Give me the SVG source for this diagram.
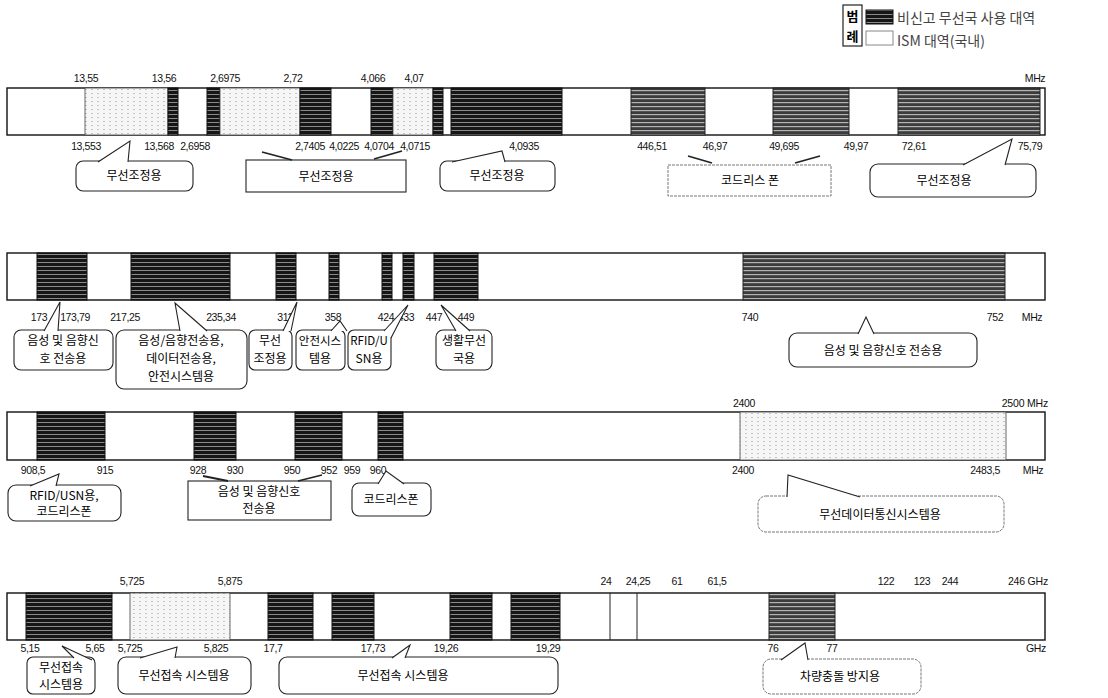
<svg xmlns="http://www.w3.org/2000/svg" width="1108" height="698" viewBox="0 0 1108 698">
<defs>
<pattern id="hatch" width="8" height="4" patternUnits="userSpaceOnUse"><rect width="8" height="4" fill="#161616"/><rect y="2" width="8" height="1" fill="#8a8a8a"/></pattern>
<pattern id="hatch2" width="8" height="4" patternUnits="userSpaceOnUse"><rect width="8" height="4" fill="#3c3c3c"/><rect y="2" width="8" height="1.2" fill="#b4b4b4"/></pattern>
<pattern id="dots" width="6" height="4" patternUnits="userSpaceOnUse"><rect width="6" height="4" fill="#f6f6f6"/><rect x="1" y="1" width="2" height="1" fill="#c4c4c4"/></pattern>
<style>
.bar{fill:#fff;stroke:#111;stroke-width:1.4}
.dk{fill:url(#hatch);stroke:#111;stroke-width:1}
.md{fill:url(#hatch2);stroke:#222;stroke-width:1}
.lt{fill:url(#dots);stroke:#444;stroke-width:0.8}
.vl{stroke:#222;stroke-width:1}
.n{font-family:"Liberation Sans",Arial,sans-serif;font-size:10.5px;letter-spacing:-0.4px;fill:#111;text-anchor:middle}
.ne{font-family:"Liberation Sans",Arial,sans-serif;font-size:10.5px;letter-spacing:-0.2px;fill:#111;text-anchor:end}
.k{font-family:"Noto Sans CJK KR","Noto Sans CJK SC",sans-serif;font-size:12px;fill:#000;text-anchor:middle}
.lg{font-family:"Noto Sans CJK KR","Liberation Sans",sans-serif;font-size:14px;fill:#444}
.cb{fill:#fff;stroke:#222;stroke-width:1.1}
.cg{fill:#fff;stroke:#777;stroke-width:1;stroke-dasharray:3 1}
.tail{fill:#fff;stroke:#222;stroke-width:1.1}
.arw{fill:none;stroke:#222;stroke-width:1.8}
</style>
</defs>
<rect width="1108" height="698" fill="#fff"/>

<g id="legend">
<rect x="843" y="5" width="19" height="41" fill="#fff" stroke="#222" stroke-width="1.2"/>
<text x="852.5" y="21" class="k" style="font-weight:bold;font-size:13px">범</text>
<text x="852.5" y="41" class="k" style="font-weight:bold;font-size:13px">례</text>
<rect x="866" y="10" width="27" height="14" class="dk"/>
<rect x="866" y="31" width="27" height="14" fill="#fff" stroke="#888"/>
<text x="897" y="23" class="lg">비신고 무선국 사용 대역</text>
<text x="897" y="46" class="lg">ISM 대역(국내)</text>
</g>

<g id="row1">
<rect x="7" y="88" width="1038" height="47" class="bar"/>
<rect x="85" y="88" width="83" height="47" class="lt"/>
<rect x="168" y="88" width="10" height="47" class="dk"/>
<rect x="207" y="88" width="13" height="47" class="dk"/>
<rect x="220" y="88" width="80" height="47" class="lt"/>
<rect x="300" y="88" width="31" height="47" class="dk"/>
<rect x="371" y="88" width="22" height="47" class="dk"/>
<rect x="393" y="88" width="40" height="47" class="lt"/>
<rect x="433" y="88" width="10" height="47" class="dk"/>
<rect x="451" y="88" width="111" height="47" class="dk"/>
<rect x="631" y="88" width="74" height="47" class="md"/>
<rect x="773" y="88" width="76" height="47" class="md"/>
<rect x="898" y="88" width="142" height="47" class="md"/>
<text class="n" x="86" y="82">13,55</text>
<text class="n" x="164" y="82">13,56</text>
<text class="n" x="225" y="82">2,6975</text>
<text class="n" x="293" y="82">2,72</text>
<text class="n" x="373" y="82">4,066</text>
<text class="n" x="414" y="82">4,07</text>
<text class="n" x="1035" y="82">MHz</text>
<text class="n" x="86" y="150">13,553</text>
<text class="n" x="159" y="150">13,568</text>
<text class="n" x="195" y="150">2,6958</text>
<text class="n" x="310" y="150">2,7405</text>
<text class="n" x="344" y="150">4,0225</text>
<text class="n" x="379" y="150">4,0704</text>
<text class="n" x="415" y="150">4,0715</text>
<text class="n" x="524" y="150">4,0935</text>
<text class="n" x="652" y="150">446,51</text>
<text class="n" x="715" y="150">46,97</text>
<text class="n" x="784" y="150">49,695</text>
<text class="n" x="856" y="150">49,97</text>
<text class="n" x="914" y="150">72,61</text>
<text class="n" x="1030" y="150">75,79</text>
</g>

<g id="row2">
<rect x="7" y="253" width="1038" height="47" class="bar"/>
<rect x="37" y="253" width="50" height="47" class="dk"/>
<rect x="131" y="253" width="99" height="47" class="dk"/>
<rect x="276" y="253" width="20" height="47" class="dk"/>
<rect x="329" y="253" width="10" height="47" class="dk"/>
<rect x="382" y="253" width="10" height="47" class="dk"/>
<rect x="403" y="253" width="11" height="47" class="dk"/>
<rect x="434" y="253" width="44" height="47" class="dk"/>
<rect x="743" y="253" width="262" height="47" class="md"/>
<text class="n" x="39" y="321">173</text>
<text class="n" x="75" y="321">173,79</text>
<text class="n" x="125" y="321">217,25</text>
<text class="n" x="221" y="321">235,34</text>
<text class="n" x="285" y="321">311</text>
<text class="n" x="333" y="321">358</text>
<text class="n" x="386" y="321">424</text>
<text class="n" x="406" y="321">433</text>
<text class="n" x="434" y="321">447</text>
<text class="n" x="466" y="321">449</text>
<text class="n" x="750" y="321">740</text>
<text class="n" x="995" y="321">752</text>
<text class="n" x="1032" y="321">MHz</text>
</g>

<g id="row3">
<rect x="7" y="412" width="1038" height="48" class="bar"/>
<rect x="37" y="412" width="68" height="48" class="dk"/>
<rect x="194" y="412" width="42" height="48" class="dk"/>
<rect x="295" y="412" width="47" height="48" class="dk"/>
<rect x="378" y="412" width="25" height="48" class="dk"/>
<rect x="740" y="412" width="266" height="48" class="lt"/>
<text class="n" x="744" y="407">2400</text>
<text class="ne" x="1048" y="407">2500 MHz</text>
<text class="n" x="33" y="474">908,5</text>
<text class="n" x="105" y="474">915</text>
<text class="n" x="198" y="474">928</text>
<text class="n" x="235" y="474">930</text>
<text class="n" x="292" y="474">950</text>
<text class="n" x="329" y="474">952</text>
<text class="n" x="352" y="474">959</text>
<text class="n" x="378" y="474">960</text>
<text class="n" x="743" y="474">2400</text>
<text class="n" x="985" y="474">2483,5</text>
<text class="n" x="1033" y="474">MHz</text>
</g>

<g id="row4">
<rect x="7" y="593" width="1038" height="47" class="bar"/>
<rect x="26" y="593" width="86" height="47" class="dk"/>
<rect x="130" y="593" width="100" height="47" class="lt"/>
<rect x="268" y="593" width="45" height="47" class="dk"/>
<rect x="332" y="593" width="42" height="47" class="dk"/>
<rect x="450" y="593" width="42" height="47" class="dk"/>
<rect x="511" y="593" width="49" height="47" class="dk"/>
<line x1="610" y1="593" x2="610" y2="640" class="vl"/>
<line x1="637" y1="593" x2="637" y2="640" class="vl"/>
<rect x="769" y="593" width="66" height="47" class="md"/>
<text class="n" x="132" y="585">5,725</text>
<text class="n" x="230" y="585">5,875</text>
<text class="n" x="606" y="585">24</text>
<text class="n" x="638" y="585">24,25</text>
<text class="n" x="677" y="585">61</text>
<text class="n" x="717" y="585">61,5</text>
<text class="n" x="886" y="585">122</text>
<text class="n" x="922" y="585">123</text>
<text class="n" x="950" y="585">244</text>
<text class="ne" x="1048" y="585">246 GHz</text>
<text class="n" x="30" y="652">5,15</text>
<text class="n" x="95" y="652">5,65</text>
<text class="n" x="130" y="652">5,725</text>
<text class="n" x="216" y="652">5,825</text>
<text class="n" x="273" y="652">17,7</text>
<text class="n" x="373" y="652">17,73</text>
<text class="n" x="446" y="652">19,26</text>
<text class="n" x="548" y="652">19,29</text>
<text class="n" x="773" y="652">76</text>
<text class="n" x="832" y="652">77</text>
<text class="n" x="1036" y="652">GHz</text>
</g>

<g id="c1-1"><rect x="76" y="161" width="117" height="30" rx="7" class="cb"/><text class="k" x="134" y="180">무선조정용</text></g>
<g id="c1-2"><rect x="246" y="160" width="160" height="32" class="cb"/><text class="k" x="326" y="181">무선조정용</text></g>
<g id="c1-3"><rect x="440" y="161" width="115" height="30" rx="7" class="cb"/><text class="k" x="497" y="180">무선조정용</text></g>
<g id="c1-4"><rect x="668" y="165" width="163" height="31" class="cg"/><text class="k" x="750" y="185">코드리스 폰</text></g>
<g id="c1-5"><rect x="870" y="164" width="166" height="33" rx="8" class="cb"/><text class="k" x="944" y="185">무선조정용</text></g>

<g id="c2-1"><rect x="14" y="330" width="99" height="40" rx="7" class="cb"/><text class="k" x="63" y="345">음성 및 음향신</text><text class="k" x="63" y="363">호 전송용</text></g>
<g id="c2-2"><rect x="116" y="330" width="131" height="59" rx="8" class="cb"/><text class="k" x="181" y="345">음성/음향전송용,</text><text class="k" x="181" y="363">데이터전송용,</text><text class="k" x="181" y="381">안전시스템용</text></g>
<g id="c2-3"><rect x="249" y="330" width="43" height="40" rx="6" class="cb"/><text class="k" x="270" y="345">무선</text><text class="k" x="270" y="363">조정용</text></g>
<g id="c2-4"><rect x="296" y="330" width="49" height="40" rx="6" class="cb"/><text class="k" x="320" y="345" style="font-size:11.5px">안전시스</text><text class="k" x="320" y="363">템용</text></g>
<g id="c2-5"><rect x="348" y="330" width="43" height="40" rx="6" class="cb"/><text class="k" x="369" y="345" style="font-size:11.5px">RFID/U</text><text class="k" x="369" y="363">SN용</text></g>
<g id="c2-6"><rect x="436" y="330" width="56" height="40" rx="7" class="cb"/><text class="k" x="464" y="345">생활무선</text><text class="k" x="464" y="363">국용</text></g>
<g id="c2-7"><rect x="789" y="333" width="188" height="34" rx="8" class="cb"/><text class="k" x="883" y="355">음성 및 음향신호 전송용</text></g>

<g id="c3-1"><rect x="8" y="485" width="113" height="36" rx="8" class="cb"/><text class="k" x="64" y="500">RFID/USN용,</text><text class="k" x="64" y="516">코드리스폰</text></g>
<g id="c3-2"><rect x="188" y="481" width="143" height="39" class="cb"/><text class="k" x="259" y="496">음성 및 음향신호</text><text class="k" x="259" y="513">전송용</text></g>
<g id="c3-3"><rect x="352" y="483" width="79" height="33" rx="7" class="cb"/><text class="k" x="391" y="504">코드리스폰</text></g>
<g id="c3-4"><rect x="758" y="496" width="246" height="36" rx="8" class="cg"/><text class="k" x="880" y="519">무선데이터통신시스템용</text></g>

<g id="c4-1"><rect x="27" y="657" width="68" height="37" rx="6" class="cb"/><text class="k" x="61" y="672">무선접속</text><text class="k" x="61" y="689">시스템용</text></g>
<g id="c4-2"><rect x="118" y="657" width="133" height="37" rx="8" class="cb"/><text class="k" x="184" y="680">무선접속 시스템용</text></g>
<g id="c4-3"><rect x="279" y="657" width="279" height="37" rx="8" class="cb"/><text class="k" x="403" y="680">무선접속 시스템용</text></g>
<g id="c4-4"><rect x="763" y="659" width="158" height="35" rx="8" class="cg"/><text class="k" x="840" y="681">차량충돌 방지용</text></g>

<g id="connectors">
<polyline class="tail" points="98,162 130,141 128,162"/>
<polyline class="arw" points="262,152 292,160"/>
<polyline class="arw" points="374,159 402,151"/>
<polyline class="tail" points="452,162 502,151 505,162"/>
<polyline class="arw" points="688,156 712,163"/>
<polyline class="arw" points="795,163 820,156"/>
<polyline class="tail" points="963,165 1012,139 1005,165"/>
<polyline class="tail" points="44,331 60,302 58,331"/>
<polyline class="tail" points="180,331 175,303 207,331"/>
<polyline class="tail" points="283,331 297,302 291,331"/>
<polyline class="tail" points="331,331 340,321 347,331"/>
<polyline class="tail" points="384,331 408,305 391,338"/>
<polyline class="tail" points="456,331 441,305 470,331"/>
<polyline class="tail" points="858,334 866,317 874,334"/>
<polyline class="tail" points="30,486 59,474 56,486"/>
<polyline class="arw" points="203,476 228,481"/>
<polyline class="arw" points="298,481 322,475"/>
<polyline class="tail" points="378,484 386,471 404,484"/>
<polyline class="tail" points="787,497 788,475 860,497"/>
<polyline class="tail" points="74,658 62,646 92,660"/>
<polyline class="tail" points="140,658 177,647 175,658"/>
<polyline class="tail" points="392,658 410,645 405,658"/>
<polyline class="tail" points="781,660 805,643 808,660"/>
</g>
</svg>
